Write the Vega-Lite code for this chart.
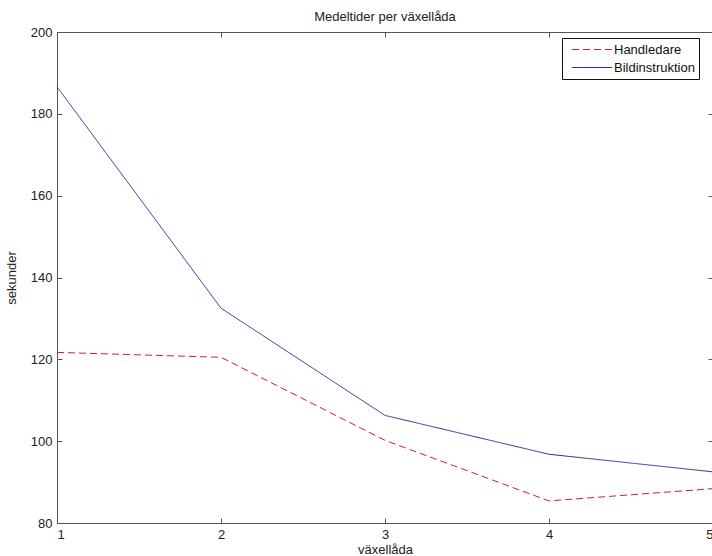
{
  "$schema": "https://vega.github.io/schema/vega-lite/v6.json",
  "width": 656,
  "height": 491,
  "autosize": "none",
  "padding": {"left": 57, "top": 32, "right": 0, "bottom": 33},
  "background": "white",
  "config": {
    "font": "Liberation Sans",
    "view": {"stroke": "#555", "strokeWidth": 1},
    "axis": {"grid": false, "domain": false, "tickColor": "#555", "tickSize": -5, "labelColor": "#222", "labelFontSize": 13, "titleFontSize": 13, "titleFontWeight": "normal", "titleColor": "#222", "labelFont": "Liberation Sans", "titleFont": "Liberation Sans"}
  },
  "title": {"text": "Medeltider per växellåda", "fontSize": 13, "fontWeight": "normal", "font": "Liberation Sans", "color": "#222", "offset": 2},
  "data": {"values": [
    {"vaxellada": 1, "serie": "Handledare", "sekunder": 121.7},
    {"vaxellada": 2, "serie": "Handledare", "sekunder": 120.5},
    {"vaxellada": 3, "serie": "Handledare", "sekunder": 100.2},
    {"vaxellada": 4, "serie": "Handledare", "sekunder": 85.4},
    {"vaxellada": 5, "serie": "Handledare", "sekunder": 88.4},
    {"vaxellada": 1, "serie": "Bildinstruktion", "sekunder": 186.6},
    {"vaxellada": 2, "serie": "Bildinstruktion", "sekunder": 132.5},
    {"vaxellada": 3, "serie": "Bildinstruktion", "sekunder": 106.3},
    {"vaxellada": 4, "serie": "Bildinstruktion", "sekunder": 96.8},
    {"vaxellada": 5, "serie": "Bildinstruktion", "sekunder": 92.5}
  ]},
  "layer": [
    {
      "mark": {"type": "line", "strokeWidth": 1, "opacity": 0, "color": "#000"},
      "encoding": {
        "x": {"field": "vaxellada", "type": "quantitative", "scale": {"domain": [1, 5], "nice": false, "zero": false},
              "axis": {"orient": "top", "labels": false, "title": null, "values": [1, 2, 3, 4, 5]}},
        "y": {"field": "sekunder", "type": "quantitative", "scale": {"domain": [80, 200], "nice": false, "zero": false},
              "axis": {"orient": "right", "labels": false, "title": null, "values": [80, 100, 120, 140, 160, 180, 200]}},
        "detail": {"field": "serie"}
      }
    },
    {
      "mark": {"type": "line", "strokeWidth": 1},
      "encoding": {
        "x": {"field": "vaxellada", "type": "quantitative", "scale": {"domain": [1, 5], "nice": false, "zero": false},
              "axis": {"orient": "bottom", "title": "växellåda", "values": [1, 2, 3, 4, 5], "labelPadding": 10, "titlePadding": 2}},
        "y": {"field": "sekunder", "type": "quantitative", "scale": {"domain": [80, 200], "nice": false, "zero": false},
              "axis": {"orient": "left", "title": "sekunder", "values": [80, 100, 120, 140, 160, 180, 200], "labelPadding": 10, "titlePadding": 12}},
        "color": {"field": "serie", "type": "nominal",
                  "scale": {"domain": ["Handledare", "Bildinstruktion"], "range": ["#d02020", "#2a2aa0"]},
                  "legend": {"title": null, "orient": "none", "legendX": 505, "legendY": 6, "strokeColor": "#111", "fillColor": "white",
                             "padding": 4, "symbolType": "M-0.21,0H5.5", "symbolSize": 196, "symbolStrokeWidth": 1, "labelFontSize": 13,
                             "labelFont": "Liberation Sans", "labelColor": "#111", "rowPadding": 3, "labelOffset": 33, "cornerRadius": 0}},
        "strokeDash": {"field": "serie", "type": "nominal",
                       "scale": {"domain": ["Handledare", "Bildinstruktion"], "range": [[7, 4], [1, 0]]},
                       "legend": {"title": null, "orient": "none", "legendX": 505, "legendY": 6, "strokeColor": "#111", "fillColor": "white",
                             "padding": 4, "symbolType": "M-0.21,0H5.5", "symbolSize": 196, "symbolStrokeWidth": 1, "labelFontSize": 13,
                             "labelFont": "Liberation Sans", "labelColor": "#111", "rowPadding": 3, "labelOffset": 33, "cornerRadius": 0}}
      }
    }
  ],
  "resolve": {"axis": {"x": "independent", "y": "independent"}}
}
